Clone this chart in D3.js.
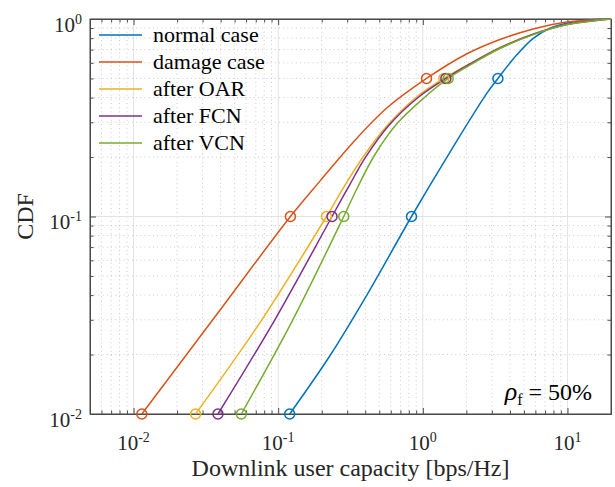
<!DOCTYPE html>
<html>
<head>
<meta charset="utf-8">
<script src="https://cdn.jsdelivr.net/npm/d3@7"></script>
<style>
  html, body { margin: 0; padding: 0; background: #fff; }
  svg { display: block; font-family: "Liberation Serif", "Times New Roman", serif; }
</style>
</head>
<body>
<div id="chart"></div>
<script>
// ---------------- data ----------------
const seriesNames = ["normal case", "damage case", "after OAR", "after FCN", "after VCN"];
const seriesColors = ["#0072BD", "#D95319", "#EDB120", "#7E2F8E", "#77AC30"];

const normalX = [0.1201, 0.2272, 0.4297, 0.8353, 1.538, 2.760, 3.304, 4.450, 5.799, 7.567, 9.874, 12.86, 16.79, 20];
const normalY = [0.01, 0.01966, 0.04244, 0.1, 0.2114, 0.4190, 0.5, 0.6572, 0.7985, 0.8972, 0.9511, 0.9804, 0.9965, 1.0];

const damageX = [0.01141, 0.03724, 0.1215, 0.1937, 0.3293, 0.561, 1.061, 2.006, 3.412, 5.799, 9.874, 16.79, 20];
const damageY = [0.01, 0.0316, 0.1, 0.1506, 0.2372, 0.3531, 0.5, 0.6649, 0.7874, 0.8901, 0.9656, 0.9930, 1.0];

const oarX = [0.02685, 0.07686, 0.2157, 0.2885, 0.3905, 0.5634, 0.9045, 1.397, 2.006, 3.412, 5.799, 9.874, 16.79, 20];
const oarY = [0.01, 0.0299, 0.1, 0.1435, 0.2025, 0.2872, 0.4027, 0.5, 0.5814, 0.7173, 0.8396, 0.9379, 0.9884, 1.0];

const fcnX = [0.03833, 0.09459, 0.2357, 0.3100, 0.4031, 0.5816, 0.9279, 1.443, 2.006, 3.412, 5.799, 9.874, 16.79, 20];
const fcnY = [0.01, 0.0299, 0.1, 0.1435, 0.2002, 0.2889, 0.4004, 0.5, 0.5781, 0.7130, 0.8367, 0.9368, 0.9884, 1.0];

const vcnX = [0.05561, 0.1260, 0.2840, 0.3521, 0.4580, 0.6502, 1.016, 1.497, 2.006, 3.412, 5.799, 9.874, 16.79, 20];
const vcnY = [0.01, 0.0299, 0.1, 0.1394, 0.2013, 0.2906, 0.3981, 0.5, 0.5714, 0.7090, 0.8338, 0.9346, 0.9884, 1.0];

// circle markers at CDF levels 0.01, 0.1, 0.5
const markerLevels = [0.01, 0.1, 0.5];
const normalMarkX = [0.1201, 0.8353, 3.304];
const damageMarkX = [0.01141, 0.1215, 1.061];
const oarMarkX = [0.02685, 0.2157, 1.397];
const fcnMarkX = [0.03833, 0.2357, 1.443];
const vcnMarkX = [0.05561, 0.2840, 1.497];

const xMajorTicks = [0.01, 0.1, 1, 10];
const xMajorExp = ["-2", "-1", "0", "1"];
const yMajorTicks = [0.01, 0.1, 1];
const yMajorExp = ["-2", "-1", "0"];
const xLabel = "Downlink user capacity [bps/Hz]";
const yLabel = "CDF";

// ---------------- layout ----------------
const W = 615, H = 487;
const m = { left: 90, top: 19, right: 4, bottom: 73 };
const pw = W - m.left - m.right, ph = H - m.top - m.bottom;

const x = d3.scaleLog().domain([0.005, 20]).range([0, pw]);
const y = d3.scaleLog().domain([0.01, 1]).range([ph, 0]);

const svg = d3.select("#chart").append("svg").attr("width", W).attr("height", H);
const g = svg.append("g").attr("transform", `translate(${m.left},${m.top})`);

// minor tick values
const xMinor = [];
[0.001, 0.01, 0.1, 1, 10].forEach(d => { for (let k = 2; k <= 9; k++) { const v = d * k; if (v >= 0.005 && v < 20 && !xMajorTicks.includes(v)) xMinor.push(v); } });
const yMinor = [];
[0.01, 0.1].forEach(d => { for (let k = 2; k <= 9; k++) yMinor.push(d * k); });

// grid
const grid = g.append("g");
grid.selectAll(".xmin").data(xMinor).join("line")
  .attr("x1", d => x(d)).attr("x2", d => x(d)).attr("y1", 0).attr("y2", ph)
  .attr("stroke", "#bdbdbd").attr("stroke-width", 0.8).attr("stroke-dasharray", "1,3.2");
grid.selectAll(".ymin").data(yMinor).join("line")
  .attr("y1", d => y(d)).attr("y2", d => y(d)).attr("x1", 0).attr("x2", pw)
  .attr("stroke", "#bdbdbd").attr("stroke-width", 0.8).attr("stroke-dasharray", "1,3.2");
grid.selectAll(".xmaj").data(xMajorTicks).join("line")
  .attr("x1", d => x(d)).attr("x2", d => x(d)).attr("y1", 0).attr("y2", ph)
  .attr("stroke", "#e3e3e3").attr("stroke-width", 1);
grid.selectAll(".ymaj").data(yMajorTicks).join("line")
  .attr("y1", d => y(d)).attr("y2", d => y(d)).attr("x1", 0).attr("x2", pw)
  .attr("stroke", "#e3e3e3").attr("stroke-width", 1);

// axes with inward ticks (D3 axis generators)
const axisColor = "#4a4a4a";
function styleAxis(sel) {
  sel.selectAll("path").attr("stroke", axisColor);
  sel.selectAll("line").attr("stroke", axisColor);
  sel.selectAll("text").remove();
}
g.append("g").attr("transform", `translate(0,${ph})`)
  .call(d3.axisBottom(x).tickValues(xMajorTicks).tickSize(-6).tickSizeOuter(0)).call(styleAxis);
g.append("g").attr("transform", `translate(0,${ph})`)
  .call(d3.axisBottom(x).tickValues(xMinor).tickSize(-3.5).tickSizeOuter(0)).call(styleAxis);
g.append("g")
  .call(d3.axisTop(x).tickValues(xMajorTicks).tickSize(-6).tickSizeOuter(0)).call(styleAxis);
g.append("g")
  .call(d3.axisTop(x).tickValues(xMinor).tickSize(-3.5).tickSizeOuter(0)).call(styleAxis);
g.append("g")
  .call(d3.axisLeft(y).tickValues(yMajorTicks).tickSize(-6).tickSizeOuter(0)).call(styleAxis);
g.append("g")
  .call(d3.axisLeft(y).tickValues(yMinor).tickSize(-3.5).tickSizeOuter(0)).call(styleAxis);
g.append("g").attr("transform", `translate(${pw},0)`)
  .call(d3.axisRight(y).tickValues(yMajorTicks).tickSize(-6).tickSizeOuter(0)).call(styleAxis);
g.append("g").attr("transform", `translate(${pw},0)`)
  .call(d3.axisRight(y).tickValues(yMinor).tickSize(-3.5).tickSizeOuter(0)).call(styleAxis);
g.append("rect").attr("x", 0).attr("y", 0).attr("width", pw).attr("height", ph)
  .attr("fill", "none").attr("stroke", axisColor).attr("stroke-width", 1);

// tick labels with superscripts
const tickFont = 21, expFont = 14;
xMajorTicks.forEach((v, i) => {
  const t = g.append("text").attr("x", x(v)).attr("y", ph + 36)
    .attr("text-anchor", "middle").attr("font-size", tickFont).attr("fill", "#262626");
  t.append("tspan").text("10");
  t.append("tspan").attr("dy", -8).attr("font-size", expFont).text(xMajorExp[i]);
});
yMajorTicks.forEach((v, i) => {
  const t = g.append("text").attr("x", -8).attr("y", y(v) + 12.5)
    .attr("text-anchor", "end").attr("font-size", tickFont).attr("fill", "#262626");
  t.append("tspan").text("10");
  t.append("tspan").attr("dy", -8).attr("font-size", expFont).text(yMajorExp[i]);
});

// axis labels
svg.append("text").attr("x", m.left + pw / 2).attr("y", 476)
  .attr("text-anchor", "middle").attr("font-size", 24).attr("fill", "#262626").text(xLabel);
svg.append("text").attr("transform", `translate(33,${m.top + ph / 2}) rotate(-90)`)
  .attr("text-anchor", "middle").attr("font-size", 24).attr("fill", "#262626").text(yLabel);

// curves
const seriesX = [normalX, damageX, oarX, fcnX, vcnX];
const seriesY = [normalY, damageY, oarY, fcnY, vcnY];
const seriesMarkX = [normalMarkX, damageMarkX, oarMarkX, fcnMarkX, vcnMarkX];
const line = d3.line().x(d => x(d[0])).y(d => y(d[1])).curve(d3.curveCatmullRom.alpha(0.5));

const clip = svg.append("defs").append("clipPath").attr("id", "clip");
clip.append("rect").attr("x", 0).attr("y", -1).attr("width", pw).attr("height", ph + 2);

seriesNames.forEach((name, i) => {
  const pts = seriesX[i].map((xv, j) => [xv, seriesY[i][j]]);
  g.append("path").datum(pts).attr("d", line).attr("fill", "none")
    .attr("stroke", seriesColors[i]).attr("stroke-width", 1.5).attr("clip-path", "url(#clip)");
});
seriesNames.forEach((name, i) => {
  g.selectAll(null).data(seriesMarkX[i].map((xv, j) => [xv, markerLevels[j]])).join("circle")
    .attr("cx", d => x(d[0])).attr("cy", d => y(d[1])).attr("r", 5)
    .attr("fill", "none").attr("stroke", seriesColors[i]).attr("stroke-width", 1.5);
});

// legend
const leg = g.append("g").attr("transform", "translate(9,16)");
seriesNames.forEach((name, i) => {
  const yy = i * 27;
  leg.append("line").attr("x1", 0).attr("x2", 43).attr("y1", yy).attr("y2", yy)
    .attr("stroke", seriesColors[i]).attr("stroke-width", 1.5);
  leg.append("text").attr("x", 54).attr("y", yy + 7).attr("font-size", 22)
    .attr("fill", "#000").text(name);
});

// annotation
const ann = g.append("text").attr("x", pw - 19).attr("y", ph - 14)
  .attr("text-anchor", "end").attr("font-size", 24).attr("fill", "#000");
ann.append("tspan").attr("font-style", "italic").attr("font-size", 26).text("ρ");
ann.append("tspan").attr("dy", 5).attr("font-size", 16).text("f");
ann.append("tspan").attr("dy", -5).text(" = 50%");
</script>
</body>
</html>
